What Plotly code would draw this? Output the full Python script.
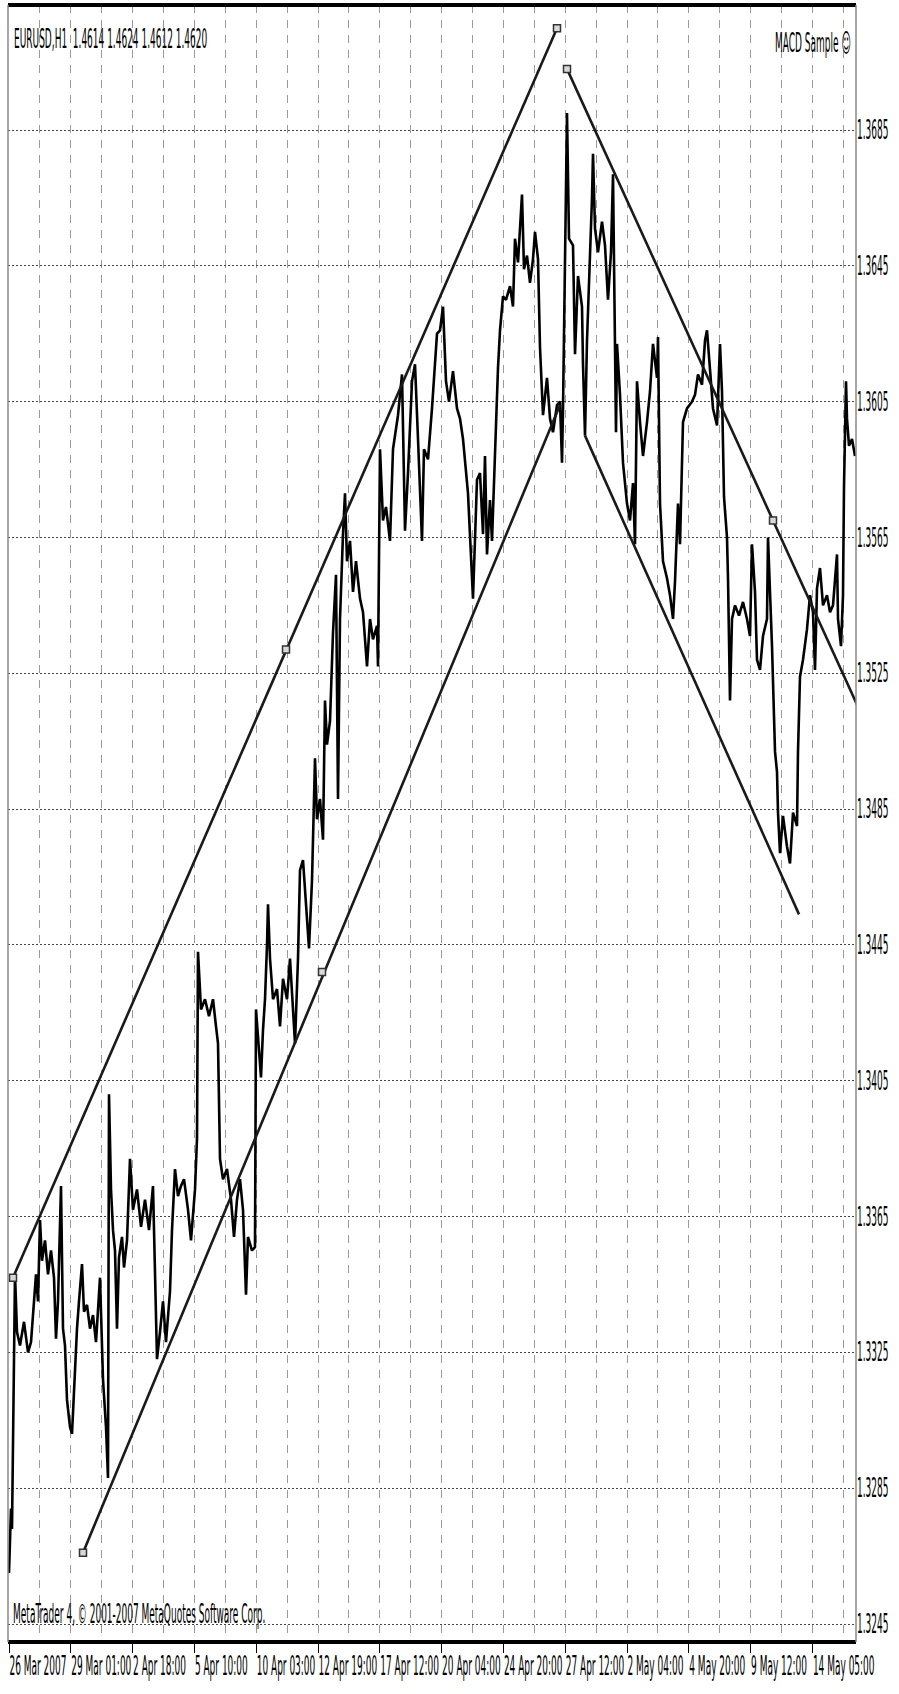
import plotly.graph_objects as go

# ---------------- data ----------------
# hourly bar index (0 = 26 Mar 2007 00:00) and price, traced along the EURUSD H1 path
bars_a = [0, 1, 2, 3, 4, 6, 8, 11, 15, 19, 22, 24, 27, 29, 31, 33, 36, 39, 42, 45,
          47, 49, 52, 54, 56, 58, 61, 63, 65, 68, 70, 73, 75, 78, 81, 84, 87, 91, 94, 97,
          99, 100, 102, 104, 106, 108, 110, 113, 115, 118, 121, 124, 128, 132, 136, 140, 144, 148, 151, 154,
          157, 161, 163, 166, 169, 172, 175, 179, 182, 186, 188, 189, 192, 196, 200, 204, 207, 209, 211, 214,
          218, 222, 225, 228, 231, 234, 237, 239, 243, 246, 247, 249, 252, 254, 256, 258, 259, 261, 264, 268,
          271, 274, 278, 281, 286, 289]
prices_a = [1.3260, 1.3270, 1.3279, 1.3273, 1.3294, 1.3348, 1.3331, 1.3327, 1.3334, 1.3325,
            1.3328, 1.3337, 1.3348, 1.3340, 1.3364, 1.3352, 1.3358, 1.3348, 1.3355, 1.3347,
            1.3329, 1.3340, 1.3374, 1.3332, 1.3327, 1.3311, 1.3303, 1.3301, 1.3314, 1.3332,
            1.3340, 1.3351, 1.3337, 1.3339, 1.3332, 1.3336, 1.3328, 1.3347, 1.3317, 1.3303,
            1.3288, 1.3401, 1.3373, 1.3361, 1.3355, 1.3332, 1.3353, 1.3359, 1.3350, 1.3358,
            1.3382, 1.3367, 1.3373, 1.3362, 1.3370, 1.3361, 1.3374, 1.3323, 1.3331, 1.3340,
            1.3328, 1.3343, 1.3361, 1.3379, 1.3371, 1.3374, 1.3376, 1.3367, 1.3358, 1.3373,
            1.3388, 1.3443, 1.3426, 1.3429, 1.3424, 1.3429, 1.3421, 1.3416, 1.3382, 1.3376,
            1.3379, 1.3370, 1.3359, 1.3370, 1.3376, 1.3367, 1.3342, 1.3359, 1.3355, 1.3356,
            1.3426, 1.3417, 1.3406, 1.3420, 1.3429, 1.3445, 1.3457, 1.3441, 1.3429, 1.3432,
            1.3421, 1.3435, 1.3429, 1.3441, 1.3416, 1.3441]

bars_b = [291, 294, 297, 300, 303, 306, 308, 311, 314, 316, 318, 321, 324, 327, 329, 331, 334, 336, 338, 341,
          344, 347, 351, 354, 358, 361, 364, 368, 369, 371, 374, 377, 381, 384, 389, 393, 396, 399, 403, 406,
          409, 413, 415, 419, 423, 428, 431, 434, 437, 440, 444, 448, 451, 454, 459, 464, 468]
prices_b = [1.3467, 1.3470, 1.3458, 1.3444, 1.3464, 1.3500, 1.3482, 1.3488, 1.3476, 1.3517,
            1.3504, 1.3511, 1.3537, 1.3554, 1.3488, 1.3541, 1.3566, 1.3578, 1.3558, 1.3564,
            1.3549, 1.3558, 1.3547, 1.3543, 1.3527, 1.3541, 1.3535, 1.3539, 1.3527, 1.3591,
            1.3570, 1.3574, 1.3564, 1.3591, 1.3601, 1.3613, 1.3567, 1.3584, 1.3611, 1.3616,
            1.3594, 1.3564, 1.3591, 1.3588, 1.3603, 1.3625, 1.3626, 1.3633, 1.3611, 1.3605,
            1.3614, 1.3603, 1.3600, 1.3594, 1.3578, 1.3547, 1.3582]

bars_c = [471, 474, 476, 478, 481, 483, 486, 489, 491, 494, 497, 501, 504, 506, 509, 513, 515, 518, 521, 524,
          526, 529, 531, 534, 538, 541, 544, 548, 551, 553, 554, 556, 558, 560, 564, 566, 569, 573, 574, 576,
          578, 583, 584, 586, 589, 593, 596, 599, 602, 604, 605, 607, 608, 611, 614, 618, 621, 624, 626, 628,
          631, 634, 638, 641, 644, 648, 649, 651, 654, 658, 661, 664, 666, 669, 671, 673, 674, 678, 683, 686,
          689, 693, 696, 698, 701, 704, 708, 711, 713, 715, 718, 719, 721, 723, 726, 730, 734, 738, 741, 743,
          746, 748, 751, 754, 758, 759, 763, 764, 766, 768, 769, 771, 774, 778, 781, 784, 788, 789, 791, 794,
          798, 801, 804, 806, 808, 811, 814, 818, 821, 824, 828, 829, 832, 834, 835, 837, 838, 840, 843, 846]
prices_c = [1.3584, 1.3566, 1.3589, 1.3560, 1.3576, 1.3564, 1.3590, 1.3615, 1.3626, 1.3636,
            1.3635, 1.3639, 1.3633, 1.3653, 1.3646, 1.3666, 1.3644, 1.3648, 1.3640, 1.3647,
            1.3655, 1.3647, 1.3621, 1.3601, 1.3612, 1.3600, 1.3596, 1.3604, 1.3605, 1.3587,
            1.3603, 1.3642, 1.3690, 1.3653, 1.3651, 1.3619, 1.3642, 1.3633, 1.3616, 1.3595,
            1.3623, 1.3665, 1.3678, 1.3656, 1.3649, 1.3658, 1.3651, 1.3635, 1.3649, 1.3672,
            1.3641, 1.3596, 1.3622, 1.3607, 1.3587, 1.3575, 1.3570, 1.3581, 1.3563, 1.3611,
            1.3599, 1.3589, 1.3599, 1.3608, 1.3622, 1.3612, 1.3624, 1.3575, 1.3558, 1.3553,
            1.3548, 1.3541, 1.3552, 1.3575, 1.3563, 1.3587, 1.3599, 1.3603, 1.3605, 1.3607,
            1.3613, 1.3610, 1.3623, 1.3626, 1.3613, 1.3603, 1.3598, 1.3622, 1.3608, 1.3577,
            1.3565, 1.3553, 1.3517, 1.3541, 1.3545, 1.3542, 1.3546, 1.3541, 1.3536, 1.3563,
            1.3549, 1.3529, 1.3526, 1.3536, 1.3541, 1.3565, 1.3533, 1.3520, 1.3502, 1.3496,
            1.3484, 1.3472, 1.3483, 1.3474, 1.3469, 1.3484, 1.3480, 1.3502, 1.3524, 1.3529,
            1.3538, 1.3548, 1.3543, 1.3526, 1.3550, 1.3556, 1.3545, 1.3548, 1.3543, 1.3545,
            1.3560, 1.3541, 1.3533, 1.3548, 1.3580, 1.3611, 1.3600, 1.3592, 1.3594, 1.3589]

# trend / channel lines (anchor points)
up_upper_bars = [4, 548]
up_upper_prices = [1.3347, 1.3715]
up_lower_bars = [74, 551]
up_lower_prices = [1.3266, 1.3604]
down_upper_bars = [558, 850]
down_upper_prices = [1.3703, 1.35145]
down_lower_bars = [576, 790]
down_lower_prices = [1.3595, 1.3454]
anchor_bars = [4, 277, 548, 74, 313, 558, 764]
anchor_prices = [1.3347, 1.3532, 1.3715, 1.3266, 1.3437, 1.3703, 1.3570]

# axes
y_tick_values = [1.3245, 1.3285, 1.3325, 1.3365, 1.3405, 1.3445,
                 1.3485, 1.3525, 1.3565, 1.3605, 1.3645, 1.3685]
y_tick_labels = ["1.3245", "1.3285", "1.3325", "1.3365", "1.3405", "1.3445",
                 "1.3485", "1.3525", "1.3565", "1.3605", "1.3645", "1.3685"]
x_tick_labels = ["26 Mar 2007", "29 Mar 01:00", "2 Apr 18:00", "5 Apr 10:00",
                 "10 Apr 03:00", "12 Apr 19:00", "17 Apr 12:00", "20 Apr 04:00",
                 "24 Apr 20:00", "27 Apr 12:00", "2 May 04:00", "4 May 20:00",
                 "9 May 12:00", "14 May 05:00"]
bars_per_label = 61.8

title_text = "EURUSD,H1  1.4614 1.4624 1.4612 1.4620"
expert_text = "MACD Sample \u263a"
copyright_text = "MetaTrader 4, \u00a9 2001-2007 MetaQuotes Software Corp."

# ---------------- figure ----------------
FONT = "Liberation Sans Narrow, DejaVu Sans Condensed, Arial Narrow, Liberation Sans, sans-serif"
W, H = 899, 1694
ML, MR, MT, MB = 8, 43, 5, 52
PW, PH = W - ML - MR, H - MT - MB


def px_x(x):
    return (x - ML) / PW


def px_y(y):
    return (H - MB - y) / PH


bars = bars_a + bars_b + bars_c
prices = prices_a + prices_b + prices_c

fig = go.Figure()
fig.add_trace(go.Scatter(x=bars, y=prices, mode="lines",
                         line=dict(color="black", width=2.6), hoverinfo="skip"))
for bx, py in [(up_upper_bars, up_upper_prices), (up_lower_bars, up_lower_prices),
               (down_upper_bars, down_upper_prices), (down_lower_bars, down_lower_prices)]:
    fig.add_trace(go.Scatter(x=bx, y=py, mode="lines",
                             line=dict(color="#1a1a1a", width=2.6), hoverinfo="skip"))
fig.add_trace(go.Scatter(x=anchor_bars, y=anchor_prices, mode="markers",
                         marker=dict(symbol="square", size=7, color="#d8d8d8",
                                     line=dict(color="#333333", width=1.5)),
                         hoverinfo="skip", cliponaxis=False))

fig.update_layout(
    width=W, height=H, autosize=False,
    margin=dict(l=ML, r=MR, t=MT, b=MB, pad=0),
    paper_bgcolor="white", plot_bgcolor="white",
    showlegend=False,
    font=dict(family=FONT, size=10, color="black"),
)

fig.update_xaxes(
    range=[-1, 847],
    tickvals=[i * bars_per_label for i in range(len(x_tick_labels))],
    ticktext=x_tick_labels,
    tickangle=0,
    ticks="outside", ticklen=10, tickcolor="black", tickwidth=1,
    ticklabelposition="outside right",
    ticklabelstandoff=14,
    showgrid=True, gridcolor="#9a9a9a", gridwidth=1, griddash="8px,7px",
    minor=dict(tick0=0, dtick=bars_per_label / 2, showgrid=True,
               gridcolor="#9a9a9a", gridwidth=1, griddash="8px,7px", ticks=""),
    zeroline=False, showline=False,
    tickfont=dict(family=FONT, size=10, color="black"),
)
fig.update_yaxes(
    range=[1.32397, 1.372182],
    side="right",
    tickvals=y_tick_values, ticktext=y_tick_labels,
    ticks="", ticklabelstandoff=0,
    showgrid=True, gridcolor="#444444", gridwidth=1, griddash="2px,2px",
    zeroline=False, showline=False,
    tickfont=dict(family=FONT, size=10, color="black"),
)

# frame
fig.add_shape(type="line", xref="paper", yref="paper", x0=0, x1=1, y0=1, y1=1,
              line=dict(color="black", width=4))
fig.add_shape(type="line", xref="paper", yref="paper", x0=0, x1=1, y0=0, y1=0,
              line=dict(color="black", width=4))
fig.add_shape(type="line", xref="paper", yref="paper", x0=0, x1=0, y0=0, y1=1,
              line=dict(color="#8a8a8a", width=1.5))
fig.add_shape(type="line", xref="paper", yref="paper", x0=1, x1=1, y0=0, y1=1,
              line=dict(color="#8a8a8a", width=1.5))

fig.add_annotation(text=title_text, xref="paper", yref="paper", x=px_x(12), y=px_y(38),
                   xanchor="left", yanchor="middle", showarrow=False,
                   font=dict(family=FONT, size=10, color="black"))
fig.add_annotation(text=expert_text, xref="paper", yref="paper", x=px_x(853), y=px_y(43),
                   xanchor="right", yanchor="middle", showarrow=False,
                   font=dict(family=FONT, size=10, color="black"))
fig.add_annotation(text=copyright_text, xref="paper", yref="paper", x=px_x(11), y=px_y(1613),
                   xanchor="left", yanchor="middle", showarrow=False,
                   font=dict(family=FONT, size=10, color="black"))

# page without body margin; MetaTrader screenshots are vertically stretched,
# so the text glyphs are stretched the same way (re-applied if plotly redraws)
post = """
document.body.style.margin = '0';
document.body.style.overflow = 'hidden';
var gd = document.getElementById('{plot_id}');
var SY = 2.6;
function stretchTexts(){
  gd.querySelectorAll('.xtick text, .ytick text, .annotation-text').forEach(function(t){
    var prev = t.getAttribute('transform') || '';
    if (prev.indexOf('scale(') >= 0) { return; }
    var bb = t.getBBox();
    var cx = bb.x + bb.width / 2, cy = bb.y + bb.height / 2;
    t.setAttribute('transform', prev + ' translate(' + cx + ',' + cy + ') scale(1,' + SY + ') translate(' + (-cx) + ',' + (-cy) + ')');
  });
}
stretchTexts();
gd.on && gd.on('plotly_afterplot', stretchTexts);
setTimeout(stretchTexts, 50);
setTimeout(stretchTexts, 300);
setTimeout(stretchTexts, 1000);
"""

fig.write_html("out.html", post_script=post,
               config={"staticPlot": True, "responsive": False})
